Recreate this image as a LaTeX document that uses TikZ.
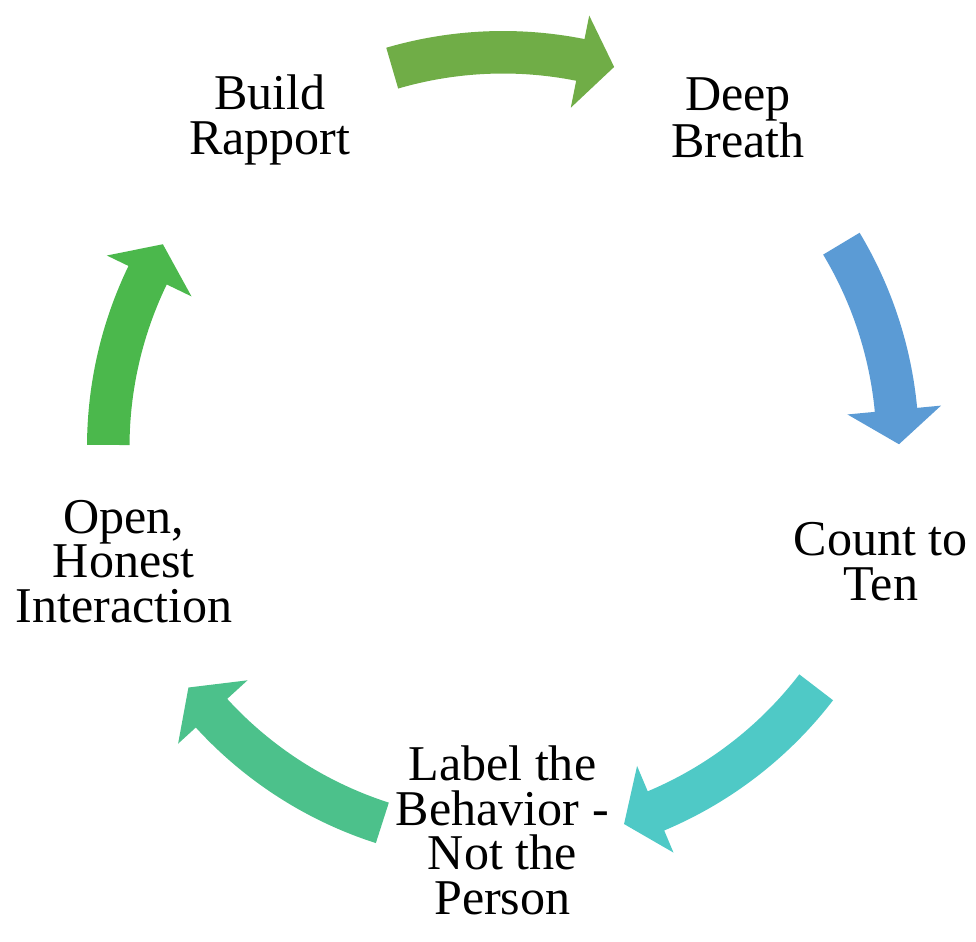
\documentclass[tikz,border=0pt]{standalone}
\usepackage{fontspec}
\setmainfont{Liberation Serif}
\definecolor{arrowA}{RGB}{112,173,71}
\definecolor{arrowB}{RGB}{91,155,213}
\definecolor{arrowC}{RGB}{79,201,198}
\definecolor{arrowD}{RGB}{76,193,139}
\definecolor{arrowE}{RGB}{75,184,76}
\newcommand{\steptext}{\fontsize{28.5}{25.3}\selectfont}

\begin{document}
\begin{tikzpicture}[
  steplabel/.style={align=center, inner sep=0pt, font=\steptext}
]
  \useasboundingbox (0,0) rectangle (19.52,-18.82);
  \coordinate (mid) at (10.06,-8.94);
  \begin{scope}[shift={(mid)}]
  % the five steps
  \node[steplabel] (rapport) at (125.5:8.03) {Build\\Rapport};
  \node[steplabel] (breath) at (54.5:8.09) {Deep\\Breath};
  \node[steplabel] (count) at (-16.9:7.9) {Count to\\Ten};
  \node[steplabel] (label) at (-90.1:7.67) {Label the\\Behavior -\\Not the\\Person};
  \node[steplabel] (honest) at (196.8:7.92) {Open,\\Honest\\Interaction};
  % curved block arrows: tail angle / tip angle / colour
  \foreach \s/\e/\col in {106.3/73.7/arrowA, 31/0.4/arrowB, -37.5/-72.2/arrowC,
                          -107.8/-142.6/arrowD, 179.7/149.2/arrowE}
    \fill[\col] (\s:8.32) arc[start angle=\s, end angle=\e+5, radius=8.32]
      -- ({\e+5}:8.8) -- (\e:7.92) -- ({\e+5}:6.92) -- ({\e+5}:7.47)
      arc[start angle=\e+5, end angle=\s, radius=7.47] -- cycle;
  \end{scope}
\end{tikzpicture}
\end{document}
